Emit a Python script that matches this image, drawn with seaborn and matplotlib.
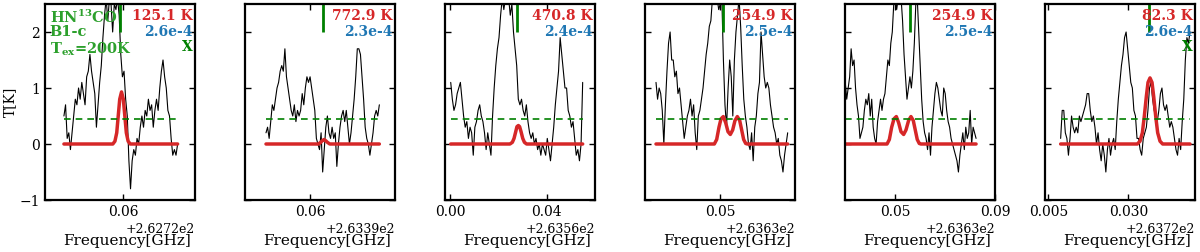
import numpy as np
import pandas as pd
import matplotlib
matplotlib.use("Agg")
import matplotlib.pyplot as plt
import seaborn as sns
from matplotlib.ticker import ScalarFormatter

# ---------------- data ----------------
offsets = [262.72, 263.39, 263.56, 263.63, 263.63, 263.72]
xlims = [(0.03389, 0.08389), (0.03833, 0.08833), (-0.00207, 0.0600),
         (0.0200, 0.0800), (0.0298, 0.0900), (0.00396, 0.05083)]
xticks = [[0.06], [0.06], [0.00, 0.04], [0.05], [0.05, 0.09], [0.005, 0.030]]
spec_range = [(0.0402, 0.0781), (0.04533, 0.08311), (0.0003, 0.0549),
              (0.0244, 0.07707), (0.0299, 0.0824), (0.00885, 0.04927)]

p1_T = [0.5, 0.7, 0.1, 0.2, -0.1, 0.2, 0.5, 0.8, 0.7, 1.0, 0.8, 1.1, 0.9, 0.7, 1.2, 1.3,
        1.6, 1.3, 1.1, 0.9, 0.3, 0.7, 1.1, 1.4, 1.9, 2.3, 2.6, 2.2, 2.6, 2.5, 2.0, 2.5,
        2.4, 2.6, 2.3, 1.6, 1.2, 1.3, 0.8, 0.5, -0.3, -0.8, -0.3, -0.1, -0.2, 0.1, 0.0,
        0.3, 0.5, 0.3, 0.6, 0.5, 0.8, 0.6, 0.7, 0.3, 0.6, 0.8, 0.6, 1.0, 1.3, 1.5, 1.2,
        1.0, 0.6, 0.5, 0.1, -0.2, -0.1, -0.2, 0.0]
p2_T = [0.2, 0.3, 0.1, 0.4, 0.7, 0.6, 0.8, 1.0, 1.1, 1.3, 1.4, 1.3, 1.7, 1.2, 1.0, 0.8,
        0.6, 0.5, 0.7, 0.4, 0.6, 0.5, 0.6, 0.9, 0.7, 1.0, 1.2, 1.1, 1.2, 1.0, 0.8, 0.6,
        0.1, 0.0, -0.1, 0.2, -0.5, -0.1, 0.3, 0.5, 0.2, 0.1, 0.3, 0.1, 0.2, -0.4, 0.0,
        0.3, 0.5, 0.6, 0.4, 0.6, 0.3, 0.0, 0.2, 0.5, 0.8, 1.2, 1.7, 1.7, 1.6, 1.2, 0.8,
        0.3, 0.1, 0.0, -0.2, 0.0, 0.2, 0.5, 0.6, 0.5, 0.7]
p3_T = [1.1, 0.8, 0.6, 0.7, 0.9, 1.0, 1.1, 0.8, 0.5, 0.3, 0.4, 0.1, 0.3, 0.2, -0.2, 0.3,
        0.4, 0.6, 0.7, 0.5, 0.4, 0.2, -0.1, 0.2, 0.0, -0.2, 0.5, 1.0, 1.4, 1.7, 1.9, 2.3,
        2.6, 2.4, 2.6, 2.5, 2.6, 2.3, 2.5, 2.0, 1.7, 1.4, 0.8, 0.7, 0.8, 0.6, 0.5, 0.7,
        0.4, 0.2, 0.1, 0.2, 0.0, 0.1, -0.1, 0.0, -0.2, 0.0, -0.1, -0.2, 0.1, -0.1, -0.3,
        0.0, 0.3, 0.7, 1.0, 1.3, 1.9, 1.6, 1.3, 1.0, 1.0, 0.6, 0.5, 0.3, 0.4, 0.1, -0.2,
        -0.1, -0.3, 0.0, 1.1]
p4_T = [1.1, 0.8, 1.0, 0.9, 0.6, 0.0, 0.7, 1.3, 1.8, 2.0, 1.5, 1.5, 1.2, 1.3, 0.9, 1.0,
        0.7, 0.4, 0.1, 0.3, 0.5, 0.6, 0.8, 0.5, 0.7, 0.2, -0.1, 0.5, 0.6, 0.8, 1.0, 1.3,
        1.6, 1.8, 2.1, 2.2, 2.6, 2.5, 2.6, 2.6, 2.4, 2.5, 2.6, 1.5, 0.7, 0.3, 1.0, 1.5,
        1.2, 0.5, 1.5, 2.0, 2.3, 2.6, 2.1, 1.4, 0.8, 0.5, 0.3, 0.0, -0.1, 0.2, -0.3, 0.3,
        0.5, 0.9, 1.1, 2.0, 1.6, 1.2, 1.0, 1.1, 1.0, 0.7, 0.5, 0.3, 0.2, 0.0, 0.1, -0.2,
        -0.3, -0.5, -0.2, 0.0, 0.2]
p5_T = [1.1, 0.8, 1.0, 1.2, 1.7, 1.4, 1.5, 1.0, 0.7, 0.5, 0.1, 0.2, 0.3, 0.6, 0.8, 0.7,
        0.9, 0.5, 0.8, 0.3, 0.1, 0.0, 0.4, 0.6, 0.8, 0.6, 0.8, 0.9, 1.2, 1.5, 1.4, 1.8,
        2.0, 2.5, 2.6, 2.4, 2.6, 2.5, 2.6, 2.2, 1.6, 1.2, 0.8, 1.0, 1.2, 1.0, 1.3, 1.8,
        2.5, 2.6, 2.0, 1.4, 0.8, 0.4, 0.2, 0.1, -0.1, 0.2, -0.2, 0.3, 0.6, 0.9, 1.1, 1.0,
        0.8, 0.6, 0.5, 1.0, 0.9, 0.6, 0.4, 0.3, 0.1, 0.0, -0.1, -0.2, -0.3, -0.5, -0.2,
        0.0, 0.2, -0.1, 0.3, 0.1, 0.2, 0.6, 0.0, 0.3, 0.2, 0.1]
p6_T = [0.1, 0.6, 0.6, 0.2, 0.1, -0.2, 0.1, 0.5, 0.3, 0.2, 0.3, 0.2, 0.5, 0.4, 0.5, 0.6,
        0.7, 0.9, 0.9, 0.6, 0.4, 0.5, 0.3, 0.0, 0.2, -0.1, -0.3, 0.0, -0.2, -0.5, -0.1,
        0.1, -0.2, 0.0, 0.1, -0.1, 0.4, 0.8, 1.1, 1.4, 1.6, 1.9, 2.0, 1.7, 1.4, 1.1, 1.0,
        0.6, 0.5, 0.1, 0.1, -0.1, -0.2, 0.1, 0.2, 0.3, 0.6, 1.0, 1.1, 0.8, 0.6, 0.5, 0.4,
        0.6, 0.9, 1.0, 0.7, 0.6, 0.7, 0.5, 0.3, 0.4, 0.3, 0.1, -0.1, -0.2, 0.1, -0.1, 0.4,
        0.8, 1.5, 1.9, 1.8, 2.0]
spectra = [p1_T, p2_T, p3_T, p4_T, p5_T, p6_T]

# model (red) curves, frequency relative to the panel offset
m1_f = [0.0402, 0.0565, 0.0572, 0.0578, 0.0583, 0.0588, 0.0594, 0.0600, 0.0605, 0.0610, 0.0616, 0.0623, 0.0781]
m1_T = [0, 0, 0.05, 0.2, 0.5, 0.8, 0.93, 0.8, 0.5, 0.2, 0.05, 0, 0]
m2_f = [0.04533, 0.0628, 0.0636, 0.0641, 0.0647, 0.0652, 0.0658, 0.0666, 0.08311]
m2_T = [0, 0, 0.03, 0.06, 0.08, 0.06, 0.03, 0, 0]
m3_f = [0.0003, 0.0248, 0.0258, 0.0265, 0.0272, 0.0277, 0.0283, 0.0288, 0.0294, 0.0301, 0.0308, 0.0317, 0.0549]
m3_T = [0, 0, 0.03, 0.1, 0.22, 0.31, 0.33, 0.31, 0.22, 0.1, 0.03, 0, 0]
m4_f = [0.0244, 0.04773, 0.04867, 0.0496, 0.0504, 0.05133, 0.05227, 0.0532, 0.05413, 0.05507,
        0.056, 0.05693, 0.05787, 0.05867, 0.05947, 0.06027, 0.06093, 0.07707]
m4_T = [0, 0, 0.08, 0.3, 0.45, 0.49, 0.38, 0.22, 0.17, 0.25, 0.42, 0.49, 0.42, 0.25, 0.08, 0.01, 0, 0]
m5_f = [0.0299, 0.04667, 0.0476, 0.04853, 0.04947, 0.0504, 0.05133, 0.05227, 0.05333, 0.05427,
        0.05533, 0.05627, 0.0572, 0.058, 0.0588, 0.0596, 0.06027, 0.0824]
m5_T = [0, 0, 0.08, 0.3, 0.45, 0.49, 0.38, 0.22, 0.17, 0.25, 0.42, 0.49, 0.42, 0.25, 0.08, 0.01, 0, 0]
m6_f = [0.00885, 0.03281, 0.03365, 0.03438, 0.035, 0.03563, 0.03615, 0.03677, 0.0374, 0.03792,
        0.03854, 0.03917, 0.0399, 0.04073, 0.04927]
m6_T = [0, 0, 0.05, 0.2, 0.5, 0.85, 1.1, 1.18, 1.1, 0.85, 0.5, 0.2, 0.05, 0, 0]
models = [(m1_f, m1_T), (m2_f, m2_T), (m3_f, m3_T), (m4_f, m4_T), (m5_f, m5_T), (m6_f, m6_T)]

line_pos = [0.0589, 0.0642, 0.0279, 0.0511, 0.0560, 0.0366]
noise_level = 0.45
temps = ["125.1 K", "772.9 K", "470.8 K", "254.9 K", "254.9 K", "82.3 K"]
abunds = ["2.6e-4", "2.3e-4", "2.4e-4", "2.5e-4", "2.5e-4", "2.6e-4"]
marks = ["X", "", "", "", "", "X"]
title_lines = ["HN$^{13}$CO", "B1-c", "T$_{ex}$=200K"]

# ---------------- style ----------------
sns.set_style("ticks")
plt.rcParams["font.family"] = ["DejaVu Serif"]
plt.rcParams["mathtext.fontset"] = "dejavuserif"
plt.rcParams["mathtext.default"] = "bf"
plt.rcParams["axes.edgecolor"] = "black"
plt.rcParams["text.color"] = "black"
plt.rcParams["axes.labelcolor"] = "black"
plt.rcParams["xtick.color"] = "black"
plt.rcParams["ytick.color"] = "black"

RED = "#d62728"
BLUE = "#1f77b4"
LGREEN = "#2ca02c"
DGREEN = "#008000"

fig = plt.figure(figsize=(12, 2.52), dpi=100)
W, H = 1200, 252
for i in range(6):
    off = offsets[i]
    ax = fig.add_axes([(45 + 200 * i) / W, (H - 200) / H, 150 / W, 196 / H])
    T = spectra[i]
    f = np.linspace(off + spec_range[i][0], off + spec_range[i][1], len(T))
    df = pd.DataFrame({"freq": f, "T": T})
    sns.lineplot(data=df, x="freq", y="T", ax=ax, color="black", lw=0.8,
                 estimator=None, sort=False)
    mf, mT = models[i]
    dm = pd.DataFrame({"freq": [off + v for v in mf], "T": mT})
    sns.lineplot(data=dm, x="freq", y="T", ax=ax, color=RED, lw=2.5,
                 estimator=None, sort=False)
    ax.hlines(noise_level, off + spec_range[i][0], off + spec_range[i][1],
              colors=DGREEN, linestyles=(0, (4, 3)), lw=1.2)
    ax.vlines(off + line_pos[i], 2.0, 2.5, colors=DGREEN, lw=2)

    ax.set_xlim(off + xlims[i][0], off + xlims[i][1])
    ax.set_ylim(-1, 2.5)
    ax.xaxis.set_major_formatter(ScalarFormatter(useOffset=off))
    ax.set_xticks([off + t for t in xticks[i]])
    ax.set_yticks([-1, 0, 1, 2])
    ax.tick_params(direction="in", top=True, right=True, length=4, width=1,
                   labelsize=10)
    for s in ax.spines.values():
        s.set_linewidth(1.6)
        s.set_visible(True)
    ax.xaxis.get_offset_text().set_fontsize(9)
    ax.set_xlabel("Frequency[GHz]", fontsize=11, labelpad=11)
    ax.xaxis.label.set_x(0.545)
    if i == 0:
        ax.set_ylabel("T[K]", fontsize=10, labelpad=2)
    else:
        ax.set_ylabel("")
        ax.tick_params(labelleft=False)

    ax.text(0.985, 0.975, temps[i], transform=ax.transAxes, ha="right", va="top",
            color=RED, fontsize=10, fontweight="bold")
    ax.text(0.985, 0.895, abunds[i], transform=ax.transAxes, ha="right", va="top",
            color=BLUE, fontsize=10, fontweight="bold")
    if marks[i]:
        ax.text(0.985, 0.815, marks[i], transform=ax.transAxes, ha="right", va="top",
                color=DGREEN, fontsize=10, fontweight="bold")
    if i == 0:
        for k, t in enumerate(title_lines):
            ax.text(0.03, 0.975 - 0.08 * k, t, transform=ax.transAxes, ha="left",
                    va="top", color=LGREEN, fontsize=10.5, fontweight="bold")

fig.savefig("out.png", dpi=100)
